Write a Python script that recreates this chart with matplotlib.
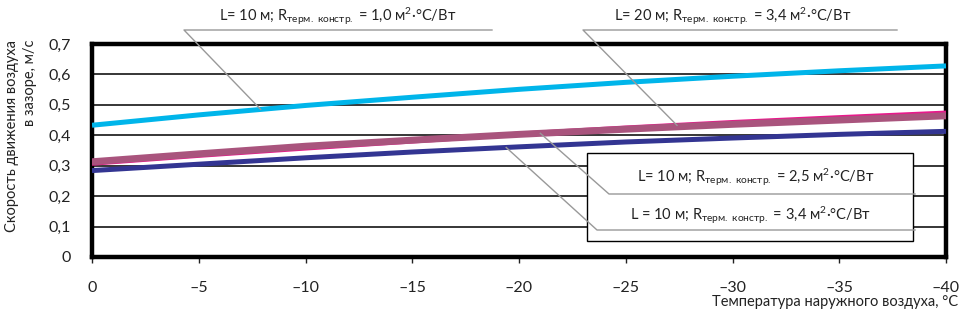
import numpy as np
import matplotlib
matplotlib.use("Agg")
import matplotlib.pyplot as plt
from matplotlib.lines import Line2D
from matplotlib.patches import Rectangle
from matplotlib.ticker import FuncFormatter

plt.rcParams['font.family'] = ['Lato', 'DejaVu Sans']
plt.rcParams['mathtext.fontset'] = 'custom'
plt.rcParams['mathtext.rm'] = 'Lato'
plt.rcParams['mathtext.it'] = 'Lato'
plt.rcParams['mathtext.bf'] = 'Lato'

# ---- data ----
temps = [0, -5, -10, -15, -20, -25, -30, -35, -40]
v_L10_R10 = [0.433, 0.467, 0.498, 0.525, 0.551, 0.574, 0.594, 0.612, 0.628]
v_L20_R34 = [0.308, 0.334, 0.358, 0.381, 0.404, 0.424, 0.442, 0.458, 0.473]
v_L10_R25 = [0.313, 0.339, 0.364, 0.384, 0.403, 0.420, 0.436, 0.450, 0.464]
v_L10_R34 = [0.284, 0.305, 0.326, 0.345, 0.362, 0.378, 0.391, 0.403, 0.413]

labels = [
    r"L= 10 м; R$_{\mathrm{терм.\ констр.}}\,\,$= 1,0 м$^{2}$∙°C/Вт",
    r"L= 20 м; R$_{\mathrm{терм.\ констр.}}\,\,$= 3,4 м$^{2}$∙°C/Вт",
    r"L= 10 м; R$_{\mathrm{терм.\ констр.}}\,\,$= 2,5 м$^{2}$∙°C/Вт",
    r"L = 10 м; R$_{\mathrm{терм.\ констр.}}\,\,$= 3,4 м$^{2}$∙°C/Вт",
]
y_ticks = [0, 0.1, 0.2, 0.3, 0.4, 0.5, 0.6, 0.7]
x_ticks = [0, -5, -10, -15, -20, -25, -30, -35, -40]

W, H = 965, 320
fig = plt.figure(figsize=(W / 100, H / 100), dpi=100)
ax = fig.add_axes([92 / W, 1 - 257 / H, (946 - 92) / W, (257 - 44) / H])

def px(x, y):
    return (x / W, 1 - y / H)

# curves
ax.plot(temps, v_L20_R34, color='#E8198B', lw=3.6, solid_capstyle='butt', zorder=3)
ax.plot(temps, v_L10_R25, color='#A9547D', lw=5.0, solid_capstyle='butt', zorder=3.1)
ax.plot(temps, v_L10_R34, color='#333592', lw=3.6, solid_capstyle='butt', zorder=3.2)
ax.plot(temps, v_L10_R10, color='#00B5EA', lw=3.6, solid_capstyle='butt', zorder=3.3)

ax.set_xlim(0, -40)
ax.set_ylim(0, 0.7)
ax.set_xticks(x_ticks)
ax.set_yticks(y_ticks)

def fmt_x(v, pos):
    return "0" if v == 0 else "–" + str(int(abs(v)))

def fmt_y(v, pos):
    return "0" if abs(v) < 1e-9 else f"{v:.1f}".replace('.', ',')

ax.xaxis.set_major_formatter(FuncFormatter(fmt_x))
ax.yaxis.set_major_formatter(FuncFormatter(fmt_y))
ax.tick_params(axis='x', length=4, width=1, direction='out', pad=13, labelsize=11.5, colors='#222222')
ax.tick_params(axis='y', length=0, pad=15, labelsize=11.5, colors='#222222')
ax.yaxis.grid(True, color='black', lw=1.1)
ax.set_axisbelow(True)
for s in ax.spines.values():
    s.set_linewidth(3.2)
    s.set_color('black')

# y label (two lines)
fig.text(12 / W, 1 - 40 / H, "Скорость движения воздуха", rotation=90,
         ha='center', va='top', fontsize=10.5, color='#222222')
fig.text(30 / W, 1 - 40 / H, "в зазоре, м/с", rotation=90,
         ha='center', va='top', fontsize=10.5, color='#222222')
# x label
fig.text(958 / W, 1 - 302 / H, "Температура наружного воздуха, °C",
         ha='right', va='center', fontsize=10.5, color='#222222')

# legend box
fig.patches.append(Rectangle(px(587, 241), (913 - 587) / W, (241 - 153) / H,
                             transform=fig.transFigure, facecolor='white',
                             edgecolor='black', lw=1.0, zorder=2))

fig.canvas.draw()

def data_to_fig(t, series):
    v = np.interp(-t, [-x for x in temps], series)
    disp = ax.transData.transform((t, v))
    return fig.transFigure.inverted().transform(disp)

gray = '#999999'
def leader(points):
    xs = [p[0] for p in points]
    ys = [p[1] for p in points]
    fig.lines.append(Line2D(xs, ys, transform=fig.transFigure, color=gray, lw=1.0, zorder=5))

# annotation 1
leader([data_to_fig(-7.9, v_L10_R10), px(184, 30), px(492, 30)])
fig.text(338 / W, 1 - 16 / H, labels[0], ha='center', va='center', fontsize=10.5, color='#222222')
# annotation 2
leader([data_to_fig(-27.4, v_L20_R34), px(583, 30), px(897, 30)])
fig.text(733 / W, 1 - 16 / H, labels[1], ha='center', va='center', fontsize=10.5, color='#222222')
# annotation 3 (box)
leader([data_to_fig(-21.0, v_L10_R25), px(609, 194), px(915, 194)])
fig.text(756 / W, 1 - 177 / H, labels[2], ha='center', va='center', fontsize=10.5, color='#222222')
# annotation 4 (box)
leader([data_to_fig(-19.4, v_L10_R34), px(597, 230), px(915, 230)])
fig.text(750 / W, 1 - 215 / H, labels[3], ha='center', va='center', fontsize=10.5, color='#222222')

fig.savefig("out.png", dpi=100)
